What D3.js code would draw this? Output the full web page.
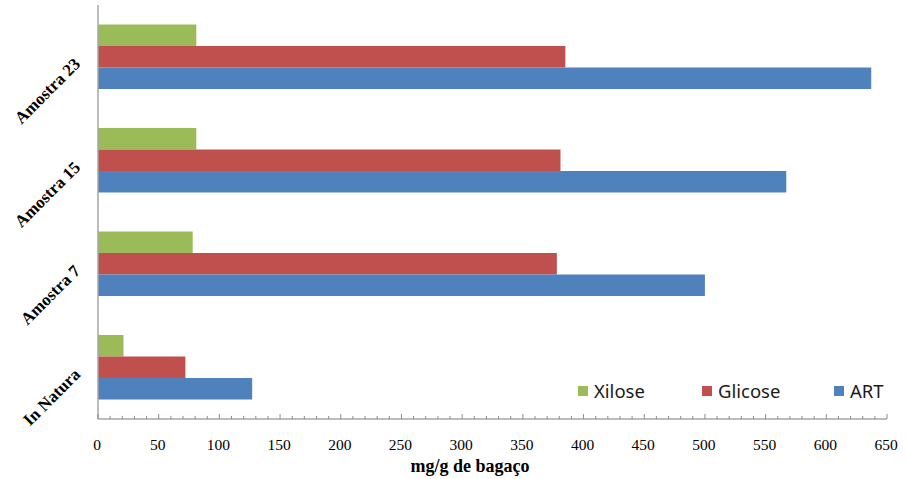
<!DOCTYPE html>
<html>
<head>
<meta charset="utf-8">
<script src="https://cdn.jsdelivr.net/npm/d3@7"></script>
<style>
  html, body { margin: 0; padding: 0; background: #fff; }
  svg { display: block; }
</style>
</head>
<body>
<svg id="chart" width="906" height="479"></svg>
<script>
// Categories, top to bottom
const categories = ["Amostra 23", "Amostra 15", "Amostra 7", "In Natura"];
// Series (mg/g de bagaço)
const seriesNames = ["Xilose", "Glicose", "ART"];
const xilose  = [81, 81, 78, 21];
const glicose = [385, 381, 378, 72];
const art     = [637, 567, 500, 127];
const seriesColors = ["#9BBB59", "#C0504D", "#4F81BD"];
const xTicks = [0, 50, 100, 150, 200, 250, 300, 350, 400, 450, 500, 550, 600, 650];
const xMinorTicks = d3.range(0, 651, 10);
const xTitle = "mg/g de bagaço";

const seriesValues = [xilose, glicose, art];

const svg = d3.select("#chart");
const plotLeft = 98, plotRight = 887, plotTop = 5, plotBottom = 419;

const x = d3.scaleLinear().domain([0, 650]).range([plotLeft, plotRight]);
const y = d3.scaleBand().domain(categories).range([plotTop, plotBottom])
  .paddingInner(0.377).paddingOuter(0.1885);
const yInner = d3.scaleBand().domain(seriesNames).range([0, y.bandwidth()]);
const color = d3.scaleOrdinal().domain(seriesNames).range(seriesColors);

// Bars
const groups = svg.append("g").selectAll("g")
  .data(categories)
  .join("g")
  .attr("transform", d => `translate(0,${y(d)})`);

groups.selectAll("rect")
  .data((c, i) => seriesNames.map((s, j) => ({ s, v: seriesValues[j][i] })))
  .join("rect")
  .attr("x", x(0))
  .attr("y", d => yInner(d.s))
  .attr("width", d => x(d.v) - x(0))
  .attr("height", yInner.bandwidth())
  .attr("fill", d => color(d.s));

// Axes lines
const axisColor = "#a6a6a6";
svg.append("line")
  .attr("x1", plotLeft).attr("x2", plotLeft).attr("y1", plotTop).attr("y2", plotBottom)
  .attr("stroke", axisColor).attr("stroke-width", 1.5);

const xAxisG = svg.append("g").attr("transform", `translate(0,${plotBottom})`);
xAxisG.append("line")
  .attr("x1", plotLeft).attr("x2", plotRight).attr("y1", 0).attr("y2", 0)
  .attr("stroke", axisColor).attr("stroke-width", 1.5);
xAxisG.selectAll("line.minor")
  .data(xMinorTicks)
  .join("line")
  .attr("class", "minor")
  .attr("x1", d => x(d)).attr("x2", d => x(d))
  .attr("y1", 0).attr("y2", d => (d % 50 === 0 ? -5 : -3))
  .attr("stroke", "#8c8c8c").attr("stroke-width", 1);

// Tick labels
svg.append("g").selectAll("text")
  .data(xTicks)
  .join("text")
  .attr("x", d => x(d) - 1)
  .attr("y", 450)
  .attr("text-anchor", "middle")
  .attr("font-family", "'Liberation Serif', 'Times New Roman', serif")
  .attr("font-size", 15.5)
  .attr("fill", "#000")
  .text(d => d);

// Axis title
svg.append("text")
  .attr("x", 470).attr("y", 472)
  .attr("text-anchor", "middle")
  .attr("font-family", "'Liberation Serif', 'Times New Roman', serif")
  .attr("font-weight", "bold")
  .attr("font-size", 18)
  .text(xTitle);

// Category labels (rotated)
svg.append("g").selectAll("text")
  .data(categories)
  .join("text")
  .attr("transform", d => `translate(77,${y(d) + y.bandwidth() / 2 + 4}) rotate(-45)`)
  .attr("text-anchor", "end")
  .attr("dy", "0.35em")
  .attr("font-family", "'Liberation Serif', 'Times New Roman', serif")
  .attr("font-weight", "bold")
  .attr("font-size", 17)
  .text(d => d);

// Legend
const legendX = [578, 702, 834];
const legend = svg.append("g").selectAll("g")
  .data(seriesNames)
  .join("g")
  .attr("transform", (d, i) => `translate(${legendX[i]},386)`);
legend.append("rect")
  .attr("width", 10).attr("height", 10)
  .attr("fill", d => color(d));
legend.append("text")
  .attr("x", 16).attr("y", 5)
  .attr("dy", "0.36em")
  .attr("font-family", "'Noto Sans', 'Open Sans', sans-serif")
  .attr("font-size", 18.5)
  .attr("fill", "#1a1a1a")
  .text(d => d);
</script>
</body>
</html>
